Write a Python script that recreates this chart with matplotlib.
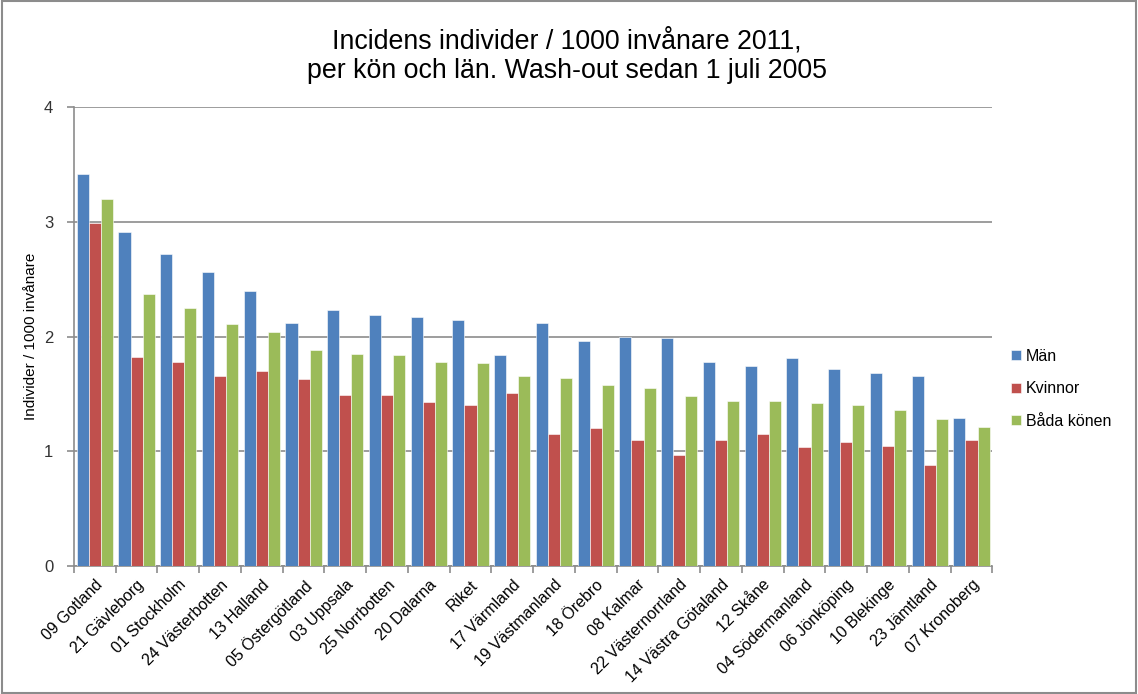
import matplotlib

matplotlib.use("Agg")
import matplotlib.pyplot as plt
import numpy as np
from matplotlib.patches import Rectangle

plt.rcParams["font.family"] = ["Liberation Sans", "DejaVu Sans"]

lan = ["09 Gotland", "21 Gävleborg", "01 Stockholm", "24 Västerbotten", "13 Halland",
       "05 Östergötland", "03 Uppsala", "25 Norrbotten", "20 Dalarna", "Riket",
       "17 Värmland", "19 Västmanland", "18 Örebro", "08 Kalmar", "22 Västernorrland",
       "14 Västra Götaland", "12 Skåne", "04 Södermanland", "06 Jönköping",
       "10 Blekinge", "23 Jämtland", "07 Kronoberg"]
man = [3.42, 2.91, 2.72, 2.56, 2.40, 2.12, 2.23, 2.19, 2.17, 2.14, 1.84,
       2.12, 1.96, 2.00, 1.99, 1.78, 1.74, 1.81, 1.72, 1.68, 1.66, 1.29]
kvinnor = [2.99, 1.82, 1.78, 1.66, 1.70, 1.63, 1.49, 1.49, 1.43, 1.40, 1.51,
           1.15, 1.20, 1.10, 0.97, 1.10, 1.15, 1.04, 1.08, 1.05, 0.88, 1.10]
bada = [3.20, 2.37, 2.25, 2.11, 2.04, 1.88, 1.85, 1.84, 1.78, 1.77, 1.66,
        1.64, 1.58, 1.55, 1.48, 1.44, 1.44, 1.42, 1.40, 1.36, 1.28, 1.21]
series = [("Män", man, "#4f81bd"), ("Kvinnor", kvinnor, "#c0504d"),
          ("Båda könen", bada, "#9bbb59")]

fig = plt.figure(figsize=(11.38, 6.94), dpi=100)
ax = fig.add_axes([0.065, 0.1844, 0.807, 0.6614])

x = np.arange(len(lan))
w = 0.29
for i, (name, vals, col) in enumerate(series):
    ax.bar(x + (i - 1) * w, vals, w, color=col, edgecolor="white", linewidth=0.4,
           label=name, zorder=3)

ax.set_xlim(-0.5, len(lan) - 0.5)
ax.set_ylim(0, 4)
ax.set_yticks([0, 1, 2, 3, 4])
ax.yaxis.grid(True, color="#8c8c8c", lw=1.2, zorder=0)
ax.set_axisbelow(True)
for s in ("top", "right"):
    ax.spines[s].set_visible(False)
for s in ("left", "bottom"):
    ax.spines[s].set_color("#8c8c8c")
    ax.spines[s].set_linewidth(1.2)

# category boundaries as ticks, labels at centres
ax.set_xticks(np.arange(len(lan) + 1) - 0.5)
ax.set_xticklabels([])
ax.set_xticks(x, minor=True)
ax.set_xticklabels(lan, minor=True, rotation=45, ha="right", rotation_mode="anchor",
                   fontsize=11.5)
ax.tick_params(axis="x", which="minor", length=0, pad=8)
ax.tick_params(axis="x", which="major", length=5, width=1.2, color="#8c8c8c")
ax.tick_params(axis="y", length=5, width=1.2, color="#8c8c8c", labelsize=12, pad=10,
               labelcolor="#333333")

ax.set_ylabel("Individer / 1000 invånare", fontsize=11)
ax.yaxis.set_label_coords(-0.039, 0.5)

fig.text(0.498, 0.919, "Incidens individer / 1000 invånare 2011,\n"
         "per kön och län. Wash-out sedan 1 juli 2005",
         ha="center", va="center", fontsize=19.3, linespacing=1.2)

leg = ax.legend(loc="center left", bbox_to_anchor=(1.005, 0.386), frameon=False,
                fontsize=11.5, handlelength=0.6, handleheight=0.6, handletextpad=0.3,
                labelspacing=1.1)

fig.add_artist(Rectangle((0.002, 0.002), 0.996, 0.996, transform=fig.transFigure,
                         fill=False, edgecolor="#8c8c8c", lw=1.5))

fig.savefig("out.png", dpi=100)
